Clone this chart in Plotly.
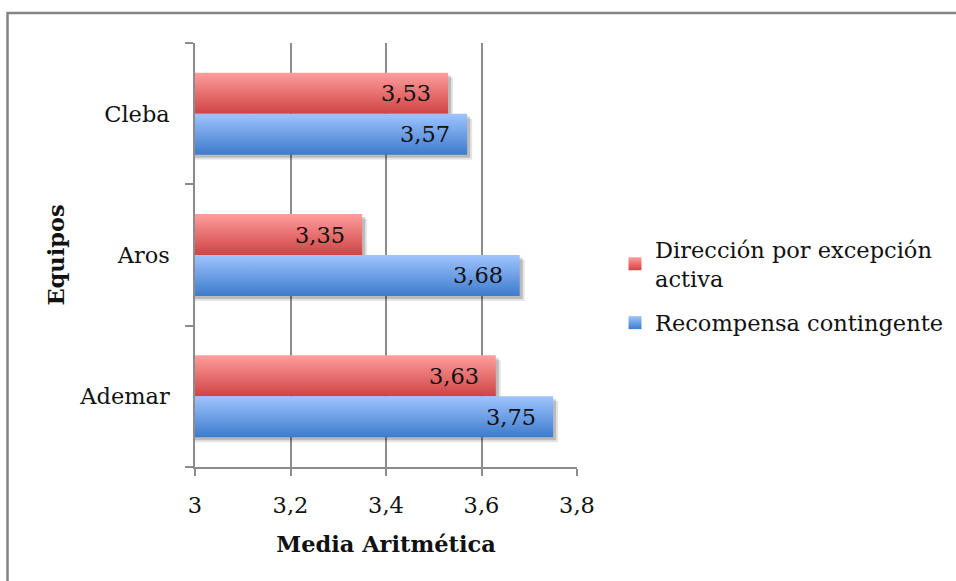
import plotly.graph_objects as go

# Data
equipos = ["Ademar", "Aros", "Cleba"]
recompensa = [3.75, 3.68, 3.57]
direccion = [3.63, 3.35, 3.53]
series_names = ["Dirección por excepción<br>activa", "Recompensa contingente"]
x_ticks = [3, 3.2, 3.4, 3.6, 3.8]

FONT = "DejaVu Serif"
FS = 22.5
GRID = "#8c8c8c"

# Plot-area geometry (pixels) used for shadow offsets
W, H = 956, 581
ML, MR, MT, MB = 195, 379, 43, 114
PW, PH = W - ML - MR, H - MT - MB
XMIN, XMAX = 3, 3.8
YMIN, YMAX = -0.5, 2.5
PX = (XMAX - XMIN) / PW
PY = (YMAX - YMIN) / PH

BAR_T = 0.29  # thickness of one bar in category units

red_grad = [[0, "#cf4343"], [1, "#ff9e9e"]]
blue_grad = [[0, "#3d7bcc"], [1, "#9fc4ff"]]

fig = go.Figure()


def rect(x0, x1, y0, y1):
    return [x0, x1, x1, x0, x0], [y0, y0, y1, y1, y0]


bars = []
for i, name in enumerate(equipos):
    bars.append((i, i + BAR_T, direccion[i], red_grad))  # upper bar
    bars.append((i - BAR_T, i, recompensa[i], blue_grad))  # lower bar

# soft drop shadows
for y0, y1, v, _ in bars:
    for off, alpha in [(5, 0.10), (3, 0.18)]:
        xs, ys = rect(XMIN, v + off * PX, y0 - off * PY, y1 - off * PY)
        fig.add_trace(go.Scatter(
            x=xs, y=ys, mode="lines", fill="toself", line=dict(width=0),
            fillcolor=f"rgba(0,0,0,{alpha})", hoverinfo="skip", showlegend=False))

# gradient bars
for y0, y1, v, grad in bars:
    xs, ys = rect(XMIN, v, y0, y1)
    fig.add_trace(go.Scatter(
        x=xs, y=ys, mode="lines", fill="toself", line=dict(width=0),
        fillgradient=dict(type="vertical", colorscale=grad),
        hoverinfo="skip", showlegend=False))

# legend entries
for k, (nm, grad) in enumerate(zip(series_names, [red_grad, blue_grad])):
    fig.add_trace(go.Scatter(
        x=[None], y=[None], mode="markers", name=nm, legendgroup=f"g{k}",
        marker=dict(symbol="square", size=13, color=grad[1][1],
                    line=dict(width=0),
                    gradient=dict(type="vertical", color=grad[0][1]))))

# value labels
for i in range(len(equipos)):
    for v, yc in [(direccion[i], i + BAR_T / 2), (recompensa[i], i - BAR_T / 2)]:
        fig.add_annotation(
            x=v, y=yc, xref="x", yref="y", text=f"{v:.2f}".replace(".", ","),
            showarrow=False, xanchor="right", yanchor="middle", xshift=-15,
            font=dict(family=FONT, size=FS, color="#111"))

fig.update_layout(
    width=W, height=H,
    margin=dict(l=ML, r=MR, t=MT, b=MB, autoexpand=False),
    paper_bgcolor="white", plot_bgcolor="white",
    separators=",.",
    font=dict(family=FONT, size=FS, color="#111"),
    showlegend=True,
    legend=dict(xref="container", yref="container",
                x=615 / W, y=1 - 228 / H, xanchor="left", yanchor="top",
                font=dict(family=FONT, size=FS, color="#111"),
                itemwidth=30, tracegroupgap=12, bgcolor="rgba(0,0,0,0)"),
    xaxis=dict(range=[XMIN, XMAX], tickvals=x_ticks, showgrid=True, gridcolor=GRID,
               gridwidth=1.5, showline=True, linecolor=GRID, linewidth=1.5,
               ticks="outside", ticklen=7, tickcolor=GRID, tickwidth=1.5,
               ticklabelstandoff=10, zeroline=False,
               title=dict(text="<b>Media Aritmética</b>", standoff=19,
                          font=dict(family=FONT, size=FS))),
    yaxis=dict(range=[YMIN, YMAX], tickvals=[0, 1, 2], ticktext=equipos,
               showgrid=False, zeroline=False, showline=True, linecolor=GRID,
               linewidth=1.5, ticks="", ticklabelstandoff=19,
               minor=dict(tickvals=[-0.5, 0.5, 1.5, 2.5], ticks="outside",
                          ticklen=8, tickcolor=GRID, tickwidth=1.5, showgrid=False),
               title=dict(text="<b>Equipos</b>", standoff=8,
                          font=dict(family=FONT, size=FS))),
)

# chart frame
fig.add_shape(type="rect", xref="paper", yref="paper",
              x0=(7.5 - ML) / PW, x1=(W + 10 - ML) / PW,
              y0=(MT + PH - (H + 10)) / PH, y1=(MT + PH - 13) / PH,
              line=dict(color="#858585", width=2.5), fillcolor="rgba(0,0,0,0)",
              layer="below")

fig.write_html("out.html")
